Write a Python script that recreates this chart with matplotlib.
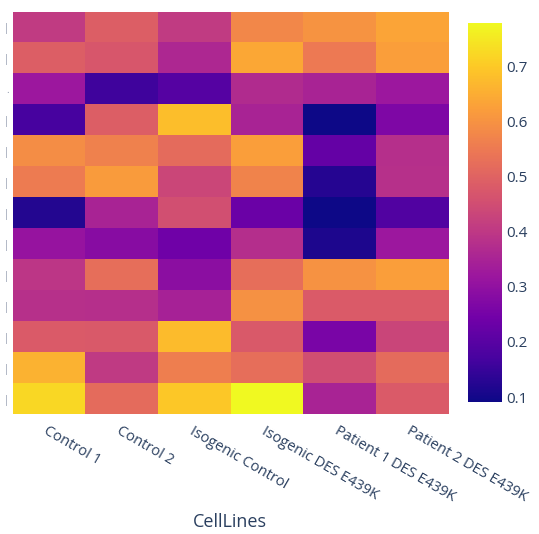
import matplotlib
matplotlib.use("Agg")
import matplotlib.pyplot as plt
import numpy as np
from matplotlib.colors import LinearSegmentedColormap

cell_lines = ["Control 1", "Control 2", "Isogenic Control",
              "Isogenic DES E439K", "Patient 1 DES E439K", "Patient 2 DES E439K"]
row_labels = ["|", "|", ".", "|", "|", "|", "|", "|", "|", "|", "|", "|", "|"]

# values, top row first
r01 = [0.407, 0.490, 0.407, 0.580, 0.604, 0.635]
r02 = [0.490, 0.470, 0.360, 0.640, 0.550, 0.625]
r03 = [0.320, 0.160, 0.195, 0.370, 0.350, 0.320]
r04 = [0.170, 0.490, 0.680, 0.350, 0.092, 0.266]
r05 = [0.590, 0.565, 0.520, 0.625, 0.220, 0.380]
r06 = [0.555, 0.620, 0.435, 0.570, 0.125, 0.383]
r07 = [0.122, 0.350, 0.456, 0.232, 0.091, 0.190]
r08 = [0.310, 0.283, 0.240, 0.377, 0.115, 0.320]
r09 = [0.397, 0.525, 0.290, 0.525, 0.600, 0.625]
r10 = [0.383, 0.380, 0.345, 0.597, 0.483, 0.483]
r11 = [0.483, 0.480, 0.675, 0.480, 0.260, 0.430]
r12 = [0.660, 0.404, 0.560, 0.525, 0.452, 0.520]
r13 = [0.724, 0.520, 0.696, 0.779, 0.350, 0.483]

z = np.array([r01, r02, r03, r04, r05, r06, r07, r08, r09, r10, r11, r12, r13])

plasma_stops = ['#0d0887', '#46039f', '#7201a8', '#9c179e', '#bd3786',
                '#d8576b', '#ed7953', '#fb9f3a', '#fdca26', '#f0f921']
cmap = LinearSegmentedColormap.from_list("plotly_plasma", plasma_stops)

W, H = 539, 534
fig = plt.figure(figsize=(W / 100, H / 100), dpi=100)
plt.rcParams['font.family'] = ['Open Sans', 'DejaVu Sans']
txt = '#2a3f5f'

left, right, top, bottom = 12.7, 448, 11.7, 414
ax = fig.add_axes([left / W, 1 - bottom / H, (right - left) / W, (bottom - top) / H])
vmin, vmax = z.min(), z.max()
im = ax.imshow(z, cmap=cmap, vmin=vmin, vmax=vmax, aspect='auto', interpolation='nearest')
for s in ax.spines.values():
    s.set_visible(False)
ax.set_xticks(np.arange(len(cell_lines)))
ax.set_xticklabels(cell_lines, rotation=-30, ha='left', va='top', rotation_mode='anchor',
                   fontsize=10.5, color=txt)
ax.set_yticks(np.arange(len(row_labels)))
ax.set_yticklabels(row_labels, fontsize=7, color='#8892a6')
ax.tick_params(axis='both', length=0, pad=3)
ax.tick_params(axis='x', pad=7)
fig.text((left + right) / 2 / W, 1 - 522 / H, "CellLines", fontsize=13, color=txt,
         ha='center', va='center')

cax = fig.add_axes([468 / W, 1 - 402 / H, 34 / W, (402 - 23) / H])
cb = fig.colorbar(im, cax=cax)
cb.outline.set_visible(False)
cb.set_ticks([0.1, 0.2, 0.3, 0.4, 0.5, 0.6, 0.7])
cb.ax.tick_params(length=0, labelsize=11, labelcolor=txt, pad=3)

fig.savefig("out.png", dpi=100)
